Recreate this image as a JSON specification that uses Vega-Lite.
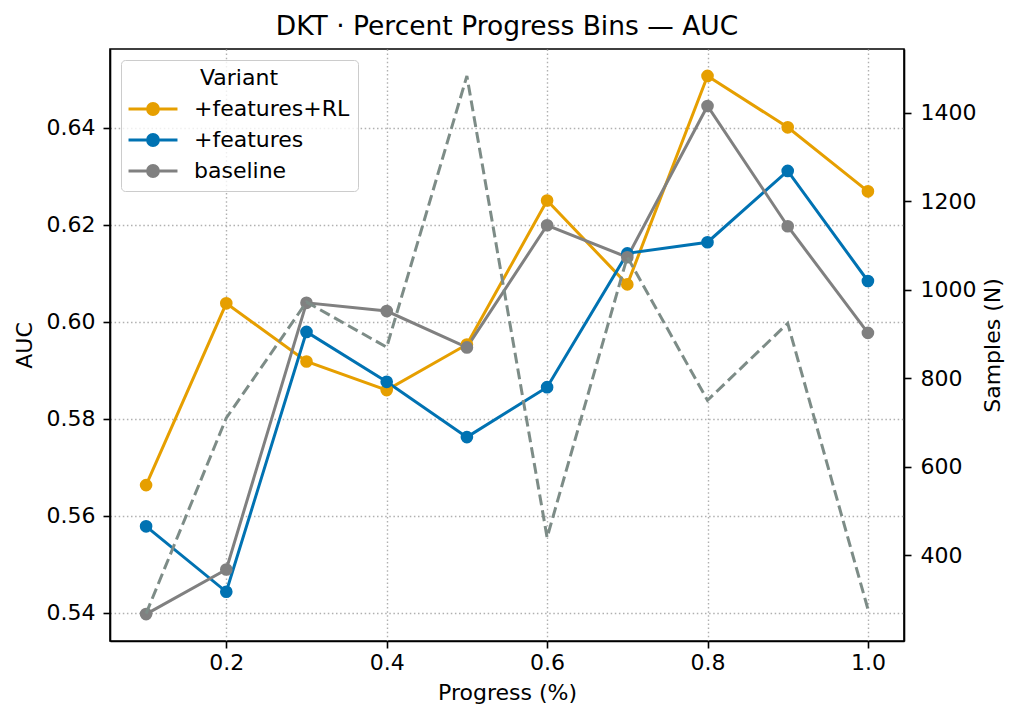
{
  "$schema": "https://vega.github.io/schema/vega-lite/v6.json",
  "width": 794,
  "height": 592,
  "autosize": {"type": "none"},
  "padding": {"left": 110, "top": 49, "right": 116, "bottom": 80},
  "background": "white",
  "title": {
    "text": "DKT · Percent Progress Bins — AUC",
    "font": "DejaVu Sans",
    "fontSize": 26.5,
    "fontWeight": "normal",
    "color": "black",
    "anchor": "middle",
    "offset": 9
  },
  "datasets": {
    "auc": [
      {"progress": 0.1, "variant": "+features+RL", "auc": 0.5663},
      {"progress": 0.2, "variant": "+features+RL", "auc": 0.6038},
      {"progress": 0.3, "variant": "+features+RL", "auc": 0.5918},
      {"progress": 0.4, "variant": "+features+RL", "auc": 0.5859},
      {"progress": 0.5, "variant": "+features+RL", "auc": 0.5953},
      {"progress": 0.6, "variant": "+features+RL", "auc": 0.6250},
      {"progress": 0.7, "variant": "+features+RL", "auc": 0.6077},
      {"progress": 0.8, "variant": "+features+RL", "auc": 0.6507},
      {"progress": 0.9, "variant": "+features+RL", "auc": 0.6401},
      {"progress": 1.0, "variant": "+features+RL", "auc": 0.6269},
      {"progress": 0.1, "variant": "+features", "auc": 0.5578},
      {"progress": 0.2, "variant": "+features", "auc": 0.5443},
      {"progress": 0.3, "variant": "+features", "auc": 0.5979},
      {"progress": 0.4, "variant": "+features", "auc": 0.5876},
      {"progress": 0.5, "variant": "+features", "auc": 0.5762},
      {"progress": 0.6, "variant": "+features", "auc": 0.5865},
      {"progress": 0.7, "variant": "+features", "auc": 0.6141},
      {"progress": 0.8, "variant": "+features", "auc": 0.6164},
      {"progress": 0.9, "variant": "+features", "auc": 0.6311},
      {"progress": 1.0, "variant": "+features", "auc": 0.6084},
      {"progress": 0.1, "variant": "baseline", "auc": 0.5397},
      {"progress": 0.2, "variant": "baseline", "auc": 0.5489},
      {"progress": 0.3, "variant": "baseline", "auc": 0.6039},
      {"progress": 0.4, "variant": "baseline", "auc": 0.6022},
      {"progress": 0.5, "variant": "baseline", "auc": 0.5947},
      {"progress": 0.6, "variant": "baseline", "auc": 0.6199},
      {"progress": 0.7, "variant": "baseline", "auc": 0.6133},
      {"progress": 0.8, "variant": "baseline", "auc": 0.6445},
      {"progress": 0.9, "variant": "baseline", "auc": 0.6197},
      {"progress": 1.0, "variant": "baseline", "auc": 0.5977}
    ],
    "samples": [
      {"progress": 0.1, "n": 268},
      {"progress": 0.2, "n": 710},
      {"progress": 0.3, "n": 972},
      {"progress": 0.4, "n": 870},
      {"progress": 0.5, "n": 1483},
      {"progress": 0.6, "n": 440},
      {"progress": 0.7, "n": 1074},
      {"progress": 0.8, "n": 750},
      {"progress": 0.9, "n": 924},
      {"progress": 1.0, "n": 278}
    ]
  },
  "layer": [
    {
      "data": {"name": "auc"},
      "encoding": {
        "x": {
          "field": "progress",
          "type": "quantitative",
          "scale": {"domain": [0.055, 1.045], "nice": false, "zero": false},
          "axis": {
            "title": "Progress (%)",
            "values": [0.2, 0.4, 0.6, 0.8, 1.0],
            "format": ".1f",
            "grid": true,
            "labelFlush": false,
            "labelPadding": 4,
            "titlePadding": 9
          }
        },
        "y": {
          "field": "auc",
          "type": "quantitative",
          "scale": {"domain": [0.53415, 0.65625], "nice": false, "zero": false},
          "axis": {
            "title": "AUC",
            "orient": "left",
            "values": [0.54, 0.56, 0.58, 0.6, 0.62, 0.64],
            "format": ".2f",
            "grid": true,
            "labelFlush": false,
            "labelPadding": 8,
            "titlePadding": 10
          }
        },
        "color": {
          "field": "variant",
          "type": "nominal",
          "scale": {
            "domain": ["+features+RL", "+features", "baseline"],
            "range": ["#E69F00", "#0072B2", "#808080"]
          },
          "legend": {
            "orient": "none",
            "legendX": 11,
            "legendY": 11,
            "title": "Variant",
            "titleAnchor": "middle",
            "titleFont": "DejaVu Sans",
            "titleFontSize": 22,
            "titleFontWeight": "normal",
            "titleColor": "black",
            "titlePadding": 8,
            "labelFont": "DejaVu Sans",
            "labelFontSize": 22,
            "labelColor": "black",
            "labelOffset": 30,
            "labelLimit": 400,
            "padding": 8,
            "rowPadding": 7,
            "fillColor": "rgba(255,255,255,0.8)",
            "strokeColor": "#cccccc",
            "cornerRadius": 4,
            "symbolOffset": 13,
            "symbolSize": 144,
            "symbolStrokeWidth": 3,
            "symbolType": "M-4.08,0H4.08M0.9,0A0.9,0.9 0 1,1 -0.9,0A0.9,0.9 0 1,1 0.9,0Z",
            "encode": {
              "symbols": {
                "update": {
                  "fill": {"scale": "color", "field": "value"},
                  "stroke": {"scale": "color", "field": "value"},
                  "opacity": {"value": 1}
                }
              }
            }
          }
        }
      },
      "layer": [
        {"mark": {"type": "line", "strokeWidth": 3}},
        {"mark": {"type": "point", "filled": true, "size": 160, "opacity": 1}}
      ]
    },
    {
      "data": {"name": "samples"},
      "mark": {"type": "line", "strokeDash": [11, 5], "strokeWidth": 3, "color": "#7d8c87"},
      "encoding": {
        "x": {"field": "progress", "type": "quantitative"},
        "y": {
          "field": "n",
          "type": "quantitative",
          "scale": {"domain": [206, 1544], "nice": false, "zero": false},
          "axis": {
            "title": "Samples (N)",
            "orient": "right",
            "values": [400, 600, 800, 1000, 1200, 1400],
            "format": "d",
            "grid": false,
            "labelFlush": false,
            "labelPadding": 9,
            "titleAngle": -90,
            "titlePadding": 29
          }
        }
      }
    }
  ],
  "resolve": {"scale": {"y": "independent"}},
  "config": {
    "view": {"stroke": "black", "strokeWidth": 1.6},
    "axis": {
      "domainColor": "black",
      "domainWidth": 1.6,
      "tickColor": "black",
      "tickWidth": 1.6,
      "tickSize": 7,
      "labelFont": "DejaVu Sans",
      "labelFontSize": 22,
      "labelColor": "black",
      "titleFont": "DejaVu Sans",
      "titleFontSize": 22,
      "titleFontWeight": "normal",
      "titleColor": "black",
      "gridColor": "#b0b0b0",
      "gridDash": [1.5, 2.6],
      "gridWidth": 1.4
    }
  }
}
